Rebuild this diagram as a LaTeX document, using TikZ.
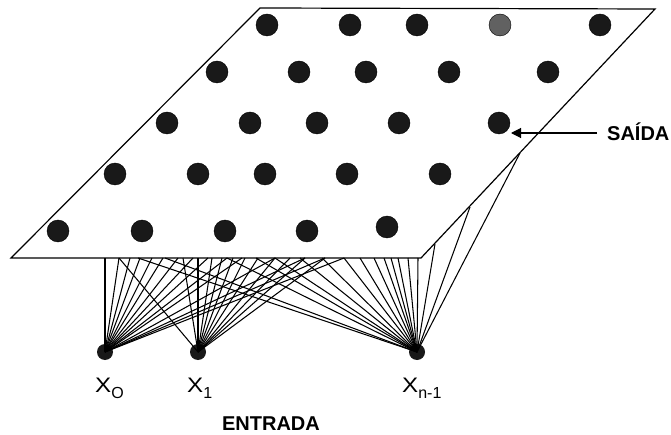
\documentclass[tikz,border=0pt]{standalone}
\usepackage{fontspec}
\setmainfont{Liberation Sans}
\usetikzlibrary{arrows.meta}
\begin{document}
\begin{tikzpicture}[x=1pt,y=-1pt,
  neuron/.style={circle,fill=black!90,draw=black,line width=0.4pt,minimum size=22pt,inner sep=0pt},
  winner/.style={neuron,fill=black!62},
  inp/.style={circle,fill=black!90,minimum size=16pt,inner sep=0pt},
  link/.style={line width=1.05pt},
  rim/.style={line width=1.2pt},
  lbl/.style={inner sep=0pt,anchor=base west,font=\fontsize{21}{25}\selectfont},
  title/.style={inner sep=0pt,font=\fontsize{20}{24}\selectfont\bfseries}]
\useasboundingbox (0,0) rectangle (671,435);
% plane corners
\coordinate (bl) at (11,258);
\coordinate (tl) at (260,8);
\coordinate (tr) at (655,9);
\coordinate (br) at (421,258);
% inputs
\node[inp] (x0) at (105,352) {};
\node[inp] (x1) at (198,352) {};
\node[inp] (xn) at (417,352) {};
% connectors
\foreach \p in {105,119,130,140,152,163,178,193,208,227,242,275,305,325,344}{
  \coordinate (a\p) at (\p,258);
  \draw[link] (x0.center) -- (a\p);
}
\foreach \p in {119,183,198,212,222,233,245,258,275,290,305,325}{
  \coordinate (b\p) at (\p,258);
  \draw[link] (x1.center) -- (b\p);
}
\foreach \p in {138,165,227,256,275,300,322,344,360,374,384,391,398,408,418}{
  \coordinate (c\p) at (\p,258);
  \draw[link] (xn.center) -- (c\p);
}
\coordinate (r1) at (520,153);
\coordinate (r2) at (470,207);
\coordinate (r3) at (435,244);
\foreach \r in {r1,r2,r3}{\draw[link] (xn.center) -- (\r);}
% plane
\draw[rim,line join=miter] (bl) -- (tl) -- (tr) -- (br) -- cycle;
% output neurons
\foreach \x [count=\i] in {267,350,417}{\node[neuron] (n1\i) at (\x,25) {};}
\node[winner] (n14) at (500,25) {};
\node[neuron] (n15) at (600,25) {};
\foreach \x [count=\i] in {217,299,366,449,548}{\node[neuron] (n2\i) at (\x,72) {};}
\foreach \x [count=\i] in {167,250,317,399,499}{\node[neuron] (n3\i) at (\x,123) {};}
\foreach \x [count=\i] in {115,198,265,347,440}{\node[neuron] (n4\i) at (\x,174) {};}
\node[neuron] (n51) at (58,231) {};
\node[neuron] (n52) at (142,231) {};
\node[neuron] (n53) at (225,231) {};
\node[neuron] (n54) at (307,231) {};
\node[neuron] (n55) at (387,227) {};
% labels
\node[title,anchor=base west] (saida) at (607,140.5) {SAÍDA};
\coordinate (as) at (597,133);
\coordinate (at) at (511,133);
\draw[line width=1.1pt,-{Triangle[length=10pt,width=10pt]}] (as) -- (at);
\node[title,anchor=base] (entrada) at (271,430) {ENTRADA};
\node[lbl] (l0) at (95,392) {\scalebox{1.15}[1]{X}\raisebox{-6pt}{\fontsize{16}{18}\selectfont O}};
\node[lbl] (l1) at (187,392) {\scalebox{1.15}[1]{X}\raisebox{-6pt}{\fontsize{16}{18}\selectfont 1}};
\node[lbl] (ln) at (402,392) {\scalebox{1.15}[1]{X}\raisebox{-6pt}{\fontsize{16}{18}\selectfont n-1}};
\end{tikzpicture}
\end{document}
